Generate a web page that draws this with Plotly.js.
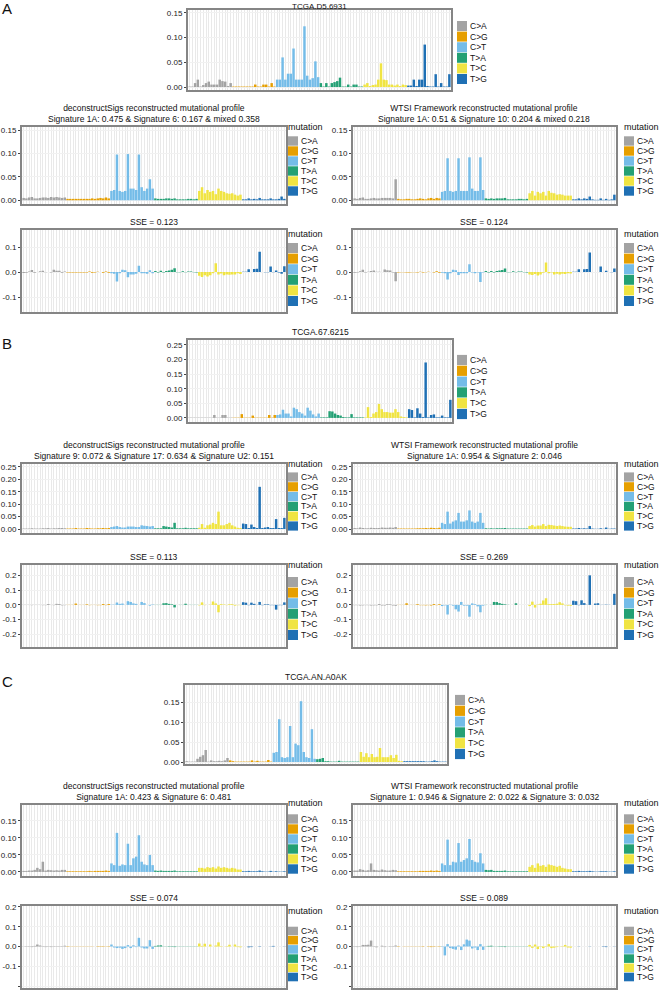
<!DOCTYPE html>
<html><head><meta charset="utf-8">
<script src="https://cdn.plot.ly/plotly-3.0.1.min.js"></script>
<style>html,body{margin:0;padding:0;background:#fff}#chart{width:661px;height:990px}</style>
</head><body><div id="chart"></div>
<script>
const W = 661, H = 990;

// ---------- categories ----------
const mutationTypes = ['C>A', 'C>G', 'C>T', 'T>A', 'T>C', 'T>G'];
const mutationColors = ['#A3A3A3', '#E69F00', '#74BCE8', '#23A074', '#F0E442', '#1F70B4'];
const flankBases = ['A', 'C', 'G', 'T'];

// ---------- series (96 values each, groups of 16 in mutation order) ----------
const aOriginal = [
 0.001,0.001,0.008,0.015,0.001,0.004,0.008,0.011,0.005,0.005,0.005,0.015,0.012,0.011,0.002,0.008,
 0.001,0.001,0.001,0.001,0.001,0.001,0.001,0.001,0.005,0.001,0.001,0.005,0.005,0.001,0.008,0.001,
 0.015,0.015,0.060,0.015,0.027,0.027,0.078,0.015,0.015,0.015,0.123,0.023,0.015,0.018,0.052,0.020,
 0.008,0.001,0.008,0.001,0.008,0.010,0.012,0.019,0.001,0.001,0.005,0.001,0.005,0.005,0.001,0.001,
 0.005,0.008,0.002,0.004,0.005,0.015,0.048,0.015,0.014,0.005,0.005,0.003,0.005,0.002,0.005,0.004,
 0.003,0.003,0.015,0.002,0.015,0.015,0.086,0.002,0.001,0.001,0.026,0.001,0.008,0.001,0.001,0.026];
const aDecon = [
 0.005,0.004,0.006,0.007,0.004,0.004,0.005,0.006,0.006,0.005,0.007,0.006,0.007,0.006,0.005,0.006,
 0.003,0.003,0.003,0.003,0.003,0.003,0.003,0.003,0.003,0.004,0.003,0.004,0.005,0.004,0.006,0.004,
 0.020,0.022,0.098,0.020,0.018,0.020,0.099,0.025,0.025,0.022,0.098,0.028,0.020,0.025,0.045,0.025,
 0.004,0.003,0.003,0.003,0.004,0.004,0.003,0.004,0.002,0.002,0.002,0.002,0.003,0.003,0.002,0.003,
 0.020,0.028,0.015,0.022,0.018,0.020,0.013,0.025,0.020,0.018,0.015,0.014,0.015,0.012,0.010,0.012,
 0.002,0.002,0.004,0.002,0.003,0.002,0.005,0.002,0.002,0.002,0.004,0.002,0.002,0.003,0.008,0.003];
const aWtsi = [
 0.004,0.003,0.005,0.006,0.003,0.003,0.004,0.005,0.004,0.004,0.005,0.005,0.005,0.005,0.004,0.045,
 0.003,0.002,0.002,0.003,0.003,0.002,0.002,0.003,0.004,0.003,0.002,0.004,0.005,0.003,0.005,0.004,
 0.018,0.020,0.090,0.020,0.018,0.020,0.090,0.020,0.020,0.020,0.092,0.025,0.020,0.020,0.092,0.022,
 0.004,0.003,0.004,0.003,0.004,0.004,0.004,0.005,0.002,0.002,0.002,0.002,0.003,0.003,0.002,0.003,
 0.015,0.020,0.010,0.018,0.015,0.018,0.010,0.020,0.016,0.015,0.012,0.013,0.012,0.010,0.010,0.010,
 0.002,0.002,0.004,0.002,0.004,0.003,0.008,0.002,0.001,0.001,0.004,0.001,0.003,0.001,0.002,0.012];
const aSseDecon = [
 -0.004,-0.003,0.002,0.008,-0.003,0.000,0.003,0.005,-0.001,0.000,-0.002,0.009,0.005,0.005,-0.003,0.002,
 -0.002,-0.002,-0.002,-0.002,-0.002,-0.002,-0.002,-0.002,0.002,-0.003,-0.002,0.001,0.000,-0.003,0.002,-0.003,
 -0.005,-0.007,-0.038,-0.005,0.009,0.007,-0.021,-0.010,-0.010,-0.007,0.025,-0.005,-0.005,-0.007,0.007,-0.005,
 0.004,-0.002,0.005,-0.002,0.004,0.006,0.009,0.015,-0.001,-0.001,0.003,-0.001,0.002,0.002,-0.001,-0.002,
 -0.015,-0.020,-0.013,-0.018,-0.013,-0.005,0.035,-0.010,-0.006,-0.013,-0.010,-0.011,-0.010,-0.010,-0.005,-0.008,
 0.001,0.001,0.011,0.000,0.012,0.013,0.081,0.000,-0.001,-0.001,0.022,-0.001,0.006,-0.002,-0.007,0.023];
const aSseWtsi = [
 -0.003,-0.002,0.003,0.009,-0.002,0.001,0.004,0.006,0.001,0.001,0.000,0.010,0.007,0.006,-0.002,-0.037,
 -0.002,-0.001,-0.001,-0.002,-0.002,-0.001,-0.001,-0.002,0.001,-0.002,-0.001,0.001,0.000,-0.002,0.003,-0.003,
 -0.003,-0.005,-0.030,-0.005,0.009,0.007,-0.012,-0.005,-0.005,-0.005,0.031,-0.002,-0.005,-0.002,-0.040,-0.002,
 0.004,-0.002,0.004,-0.002,0.004,0.006,0.008,0.014,-0.001,-0.001,0.003,-0.001,0.002,0.002,-0.001,-0.002,
 -0.010,-0.012,-0.008,-0.014,-0.010,-0.003,0.038,-0.005,-0.002,-0.010,-0.007,-0.010,-0.007,-0.008,-0.005,-0.006,
 0.001,0.001,0.011,0.000,0.011,0.012,0.078,0.000,0.000,0.000,0.022,0.000,0.005,0.000,-0.001,0.014];

const bOriginal = [
 0.001,0.001,0.001,0.001,0.001,0.001,0.001,0.001,0.001,0.010,0.001,0.001,0.010,0.010,0.001,0.001,
 0.001,0.001,0.001,0.013,0.001,0.001,0.001,0.008,0.001,0.001,0.001,0.001,0.001,0.010,0.001,0.010,
 0.010,0.012,0.028,0.015,0.015,0.005,0.035,0.030,0.020,0.015,0.008,0.035,0.025,0.012,0.005,0.015,
 0.002,0.002,0.002,0.023,0.022,0.015,0.010,0.008,0.003,0.002,0.002,0.013,0.002,0.002,0.002,0.002,
 0.002,0.037,0.003,0.015,0.020,0.048,0.030,0.020,0.020,0.018,0.018,0.030,0.020,0.005,0.003,0.002,
 0.030,0.027,0.002,0.033,0.015,0.003,0.190,0.002,0.010,0.012,0.002,0.002,0.008,0.002,0.002,0.062];
const bDecon = [
 0.002,0.002,0.002,0.003,0.002,0.002,0.002,0.003,0.003,0.004,0.002,0.003,0.003,0.004,0.004,0.003,
 0.002,0.002,0.002,0.004,0.002,0.002,0.002,0.004,0.003,0.002,0.002,0.003,0.003,0.004,0.003,0.004,
 0.008,0.010,0.012,0.008,0.006,0.006,0.010,0.010,0.010,0.008,0.008,0.015,0.013,0.012,0.010,0.012,
 0.003,0.003,0.003,0.012,0.010,0.008,0.006,0.025,0.003,0.003,0.003,0.005,0.003,0.003,0.003,0.003,
 0.005,0.020,0.005,0.015,0.018,0.025,0.020,0.070,0.015,0.015,0.020,0.025,0.015,0.010,0.005,0.004,
 0.022,0.020,0.004,0.018,0.008,0.004,0.170,0.004,0.006,0.008,0.004,0.004,0.040,0.004,0.004,0.045];
const bWtsi = [
 0.004,0.003,0.006,0.004,0.003,0.003,0.005,0.004,0.004,0.004,0.006,0.005,0.005,0.006,0.005,0.008,
 0.002,0.002,0.002,0.002,0.002,0.002,0.002,0.003,0.003,0.003,0.004,0.003,0.005,0.004,0.003,0.005,
 0.025,0.020,0.070,0.022,0.030,0.035,0.065,0.030,0.030,0.035,0.075,0.030,0.025,0.030,0.065,0.025,
 0.003,0.002,0.003,0.002,0.003,0.003,0.003,0.004,0.002,0.002,0.002,0.002,0.002,0.002,0.002,0.002,
 0.012,0.016,0.010,0.014,0.014,0.020,0.012,0.017,0.016,0.014,0.012,0.014,0.012,0.010,0.009,0.009,
 0.002,0.002,0.004,0.002,0.003,0.002,0.012,0.002,0.001,0.001,0.003,0.001,0.006,0.001,0.002,0.002];
const bSseDecon = [
 -0.001,-0.001,-0.001,-0.002,-0.001,-0.001,-0.001,-0.002,-0.002,0.006,-0.001,-0.002,0.007,0.006,-0.003,-0.002,
 -0.001,-0.001,-0.001,0.009,-0.001,-0.001,-0.001,0.004,-0.002,-0.001,-0.001,-0.002,-0.002,0.006,-0.002,0.006,
 0.002,0.002,0.016,0.007,0.009,-0.001,0.025,0.020,0.010,0.007,0.000,0.020,0.012,0.000,-0.005,0.003,
 -0.001,-0.001,-0.001,0.011,0.012,0.007,0.004,-0.017,0.000,-0.001,-0.001,0.008,-0.001,-0.001,-0.001,-0.001,
 -0.003,0.017,-0.002,0.000,0.002,0.023,0.010,-0.050,0.005,0.003,-0.002,0.005,0.005,-0.005,-0.002,-0.002,
 0.018,0.015,-0.002,0.015,0.007,-0.001,0.020,-0.002,0.004,0.004,-0.002,-0.002,-0.032,-0.002,-0.002,0.017];
const bSseWtsi = [
 -0.002,-0.002,-0.004,-0.003,-0.002,-0.002,-0.004,-0.003,-0.003,0.006,-0.004,-0.004,0.005,0.004,-0.004,-0.006,
 -0.001,-0.001,-0.001,0.011,-0.001,-0.001,-0.001,0.005,-0.002,-0.002,-0.003,-0.002,-0.004,0.006,-0.002,0.005,
 -0.008,-0.003,-0.065,0.002,-0.005,-0.030,-0.045,0.020,-0.005,-0.005,-0.080,0.010,0.005,-0.010,-0.050,-0.005,
 -0.001,0.000,-0.001,0.020,0.019,0.012,0.007,0.004,0.001,0.000,0.000,0.011,0.000,0.000,0.000,0.000,
 -0.008,0.022,-0.018,0.003,0.008,0.030,0.045,0.005,0.006,0.006,0.008,0.018,0.010,-0.003,-0.005,-0.006,
 0.028,0.025,-0.002,0.031,0.012,0.001,0.200,0.000,0.009,0.011,-0.001,0.001,0.002,0.001,0.000,0.075];

const cOriginal = [
 0.002,0.001,0.001,0.001,0.008,0.013,0.017,0.030,0.001,0.004,0.002,0.002,0.003,0.002,0.004,0.010,
 0.004,0.002,0.001,0.001,0.001,0.001,0.001,0.001,0.004,0.001,0.003,0.001,0.001,0.001,0.005,0.001,
 0.023,0.025,0.107,0.012,0.010,0.012,0.090,0.012,0.046,0.042,0.152,0.025,0.012,0.010,0.082,0.008,
 0.007,0.008,0.010,0.002,0.002,0.001,0.001,0.001,0.003,0.001,0.001,0.001,0.001,0.001,0.001,0.001,
 0.025,0.013,0.022,0.012,0.020,0.012,0.013,0.035,0.012,0.012,0.012,0.017,0.010,0.018,0.003,0.002,
 0.002,0.002,0.002,0.002,0.002,0.002,0.002,0.002,0.001,0.001,0.002,0.004,0.002,0.001,0.001,0.001];
const cDecon = [
 0.003,0.003,0.004,0.004,0.006,0.012,0.008,0.030,0.004,0.006,0.005,0.004,0.005,0.004,0.006,0.006,
 0.002,0.002,0.002,0.002,0.002,0.002,0.002,0.002,0.003,0.002,0.003,0.003,0.003,0.003,0.004,0.003,
 0.025,0.020,0.115,0.018,0.022,0.020,0.083,0.020,0.040,0.045,0.108,0.030,0.022,0.020,0.050,0.020,
 0.004,0.003,0.004,0.003,0.003,0.003,0.003,0.004,0.002,0.002,0.002,0.002,0.002,0.002,0.002,0.002,
 0.012,0.012,0.010,0.014,0.012,0.014,0.010,0.016,0.012,0.014,0.012,0.010,0.012,0.010,0.007,0.007,
 0.002,0.002,0.003,0.002,0.002,0.002,0.004,0.002,0.001,0.001,0.003,0.001,0.002,0.001,0.001,0.002];
const cWtsi = [
 0.004,0.004,0.008,0.006,0.004,0.005,0.025,0.006,0.005,0.004,0.007,0.005,0.004,0.004,0.006,0.005,
 0.002,0.002,0.002,0.002,0.002,0.002,0.002,0.002,0.003,0.003,0.003,0.003,0.004,0.003,0.004,0.003,
 0.025,0.020,0.095,0.020,0.030,0.028,0.085,0.030,0.035,0.040,0.097,0.035,0.030,0.028,0.055,0.025,
 0.006,0.005,0.006,0.003,0.003,0.003,0.003,0.004,0.002,0.002,0.002,0.002,0.002,0.002,0.002,0.002,
 0.015,0.020,0.012,0.025,0.018,0.020,0.015,0.022,0.020,0.018,0.015,0.018,0.012,0.010,0.008,0.008,
 0.002,0.002,0.003,0.002,0.002,0.002,0.003,0.002,0.001,0.001,0.002,0.002,0.002,0.001,0.001,0.002];
const cSseDecon = [
 0.001,-0.002,-0.002,-0.003,0.003,0.010,0.005,0.002,-0.003,-0.002,-0.003,-0.002,-0.002,-0.002,-0.002,0.004,
 0.002,-0.001,-0.001,-0.001,-0.001,-0.001,-0.001,-0.001,0.001,-0.001,0.000,-0.002,-0.002,-0.002,0.001,-0.002,
 0.010,-0.005,-0.008,-0.006,-0.012,-0.008,0.007,-0.008,0.006,-0.003,0.044,-0.005,-0.010,-0.010,0.032,-0.012,
 0.003,0.005,0.006,-0.001,-0.001,-0.002,-0.002,-0.003,0.001,-0.001,-0.001,-0.001,-0.001,-0.001,-0.001,-0.001,
 0.015,0.003,0.014,0.000,0.010,0.000,0.005,0.021,0.002,0.000,0.002,0.009,0.000,0.010,-0.003,-0.004,
 0.000,0.000,-0.004,-0.003,0.000,0.000,-0.002,0.000,0.000,0.000,-0.001,0.003,0.000,0.000,0.000,-0.001];
const cSseWtsi = [
 -0.002,-0.003,-0.002,0.008,0.008,0.009,0.030,-0.002,-0.004,0.000,0.004,-0.003,-0.001,-0.002,-0.002,0.005,
 0.002,0.000,-0.001,-0.001,-0.001,-0.001,-0.001,-0.001,0.001,-0.002,0.000,-0.002,-0.003,-0.002,0.001,-0.002,
 -0.002,-0.045,0.012,-0.008,-0.012,-0.016,0.005,-0.018,0.011,0.035,0.030,-0.010,-0.005,-0.018,0.012,-0.017,
 0.001,0.003,0.004,-0.001,-0.001,-0.002,-0.002,-0.003,0.001,-0.001,-0.001,-0.001,-0.001,-0.001,-0.001,-0.001,
 0.008,-0.007,0.010,-0.013,0.002,-0.008,-0.002,0.012,-0.008,-0.006,-0.003,-0.001,-0.002,0.008,-0.005,-0.006,
 0.000,0.000,-0.001,0.000,0.000,0.000,-0.001,0.000,0.000,0.000,0.000,0.002,-0.003,0.000,0.000,-0.001];

// ---------- tick labels ----------
const profTicks15 = [0, 0.05, 0.10, 0.15];
const profTickText15 = ['0.00', '0.05', '0.10', '0.15'];
const profTicks25 = [0, 0.05, 0.10, 0.15, 0.20, 0.25];
const profTickText25 = ['0.00', '0.05', '0.10', '0.15', '0.20', '0.25'];
const sseTicks1 = [-0.1, 0, 0.1];
const sseTickText1 = ['-0.1', '0.0', '0.1'];
const sseTicks2 = [-0.2, -0.1, 0, 0.1, 0.2];
const sseTickText2 = ['-0.2', '-0.1', '0.0', '0.1', '0.2'];

// ---------- categories built from mutation types and flanking bases ----------
const categories = [];
const barColors = [];
mutationTypes.forEach((m, mi) => flankBases.forEach(b5 => flankBases.forEach(b3 => {
  categories.push(b5 + '[' + m + ']' + b3);
  barColors.push(mutationColors[mi]);
})));

// ---------- layout of the 15 panels (pixel geometry) ----------
const L = [22, 286], R = [353, 616];
const panels = [
  {d: aOriginal, x: [188, 451], y: [10, 90], yr: [-0.006, 0.156], tv: profTicks15, tt: profTickText15,
   title: 'TCGA.D5.6931', leg: {x: 457, t: null, y0: 26, s: 10.6}},
  {d: aDecon, x: L, y: [127, 204], yr: [-0.008, 0.157], tv: profTicks15, tt: profTickText15,
   title: 'deconstructSigs reconstructed mutational profile<br>Signature 1A: 0.475 &amp; Signature 6: 0.167 &amp; mixed 0.358',
   leg: {x: 288, t: 127, y0: 141, s: 10}},
  {d: aWtsi, x: R, y: [127, 204], yr: [-0.008, 0.157], tv: profTicks15, tt: profTickText15,
   title: 'WTSI Framework reconstructed mutational profile<br>Signature 1A: 0.51 &amp; Signature 10: 0.204 &amp; mixed 0.218',
   leg: {x: 624, t: 127, y0: 141, s: 10}},
  {d: aSseDecon, x: L, y: [230, 312], yr: [-0.16, 0.168], tv: sseTicks1, tt: sseTickText1,
   title: 'SSE = 0.123', leg: {x: 288, t: 234, y0: 248, s: 10.6}},
  {d: aSseWtsi, x: R, y: [230, 312], yr: [-0.16, 0.168], tv: sseTicks1, tt: sseTickText1,
   title: 'SSE = 0.124', leg: {x: 624, t: 234, y0: 248, s: 10.6}},

  {d: bOriginal, x: [188, 452], y: [340, 422], yr: [-0.014, 0.267], tv: profTicks25, tt: profTickText25,
   title: 'TCGA.67.6215', leg: {x: 457, t: null, y0: 360, s: 10.8}},
  {d: bDecon, x: L, y: [464, 533], yr: [-0.016, 0.262], tv: profTicks25, tt: profTickText25,
   title: 'deconstructSigs reconstructed mutational profile<br>Signature 9: 0.072 &amp; Signature 17: 0.634 &amp; Signature U2: 0.151',
   leg: {x: 288, t: 464, y0: 477, s: 9.8}},
  {d: bWtsi, x: R, y: [464, 533], yr: [-0.016, 0.262], tv: profTicks25, tt: profTickText25,
   title: 'WTSI Framework reconstructed mutational profile<br>Signature 1A: 0.954 &amp; Signature 2: 0.046',
   leg: {x: 624, t: 464, y0: 477, s: 9.8}},
  {d: bSseDecon, x: L, y: [565, 647], yr: [-0.285, 0.27], tv: sseTicks2, tt: sseTickText2,
   title: 'SSE = 0.113', leg: {x: 288, t: 565, y0: 582, s: 10.6}},
  {d: bSseWtsi, x: R, y: [565, 647], yr: [-0.285, 0.27], tv: sseTicks2, tt: sseTickText2,
   title: 'SSE = 0.269', leg: {x: 624, t: 565, y0: 582, s: 10.6}},

  {d: cOriginal, x: [185, 447], y: [685, 764], yr: [-0.005, 0.1925], tv: profTicks15, tt: profTickText15,
   title: 'TCGA.AN.A0AK', leg: {x: 455, t: null, y0: 700, s: 10.8}},
  {d: cDecon, x: L, y: [805, 876], yr: [-0.012, 0.197], tv: profTicks15, tt: profTickText15,
   title: 'deconstructSigs reconstructed mutational profile<br>Signature 1A: 0.423 &amp; Signature 6: 0.481',
   leg: {x: 288, t: 803, y0: 819, s: 10}},
  {d: cWtsi, x: R, y: [805, 876], yr: [-0.012, 0.197], tv: profTicks15, tt: profTickText15,
   title: 'WTSI Framework reconstructed mutational profile<br>Signature 1: 0.946 &amp; Signature 2: 0.022 &amp; Signature 3: 0.032',
   leg: {x: 624, t: 803, y0: 819, s: 10}},
  {d: cSseDecon, x: L, y: [906, 988], yr: [-0.21, 0.205], tv: sseTicks2, tt: sseTickText2,
   title: 'SSE = 0.074', leg: {x: 288, t: 911, y0: 931, s: 9.2}},
  {d: cSseWtsi, x: R, y: [906, 988], yr: [-0.21, 0.205], tv: sseTicks2, tt: sseTickText2,
   title: 'SSE = 0.089', leg: {x: 624, t: 911, y0: 931, s: 9.2}}
];

const FONT = 'Liberation Sans, Arial, sans-serif';
const px = v => v / W, py = v => 1 - v / H;

const traces = [];
const layout = {
  width: W, height: H, margin: {l: 0, r: 0, t: 0, b: 0},
  paper_bgcolor: '#fff', plot_bgcolor: '#fff',
  bargap: 0.1, showlegend: false,
  font: {family: FONT, size: 8, color: '#222'},
  annotations: [], shapes: []
};

panels.forEach((p, i) => {
  const n = i === 0 ? '' : String(i + 1);
  layout['xaxis' + n] = {
    domain: [px(p.x[0]), px(p.x[1])], anchor: 'y' + n, type: 'category',
    range: [-0.6, 95.6], tickmode: 'linear', tick0: 0, dtick: 1,
    showticklabels: false, ticks: '', showgrid: true, gridcolor: '#e9e9e9', gridwidth: 1,
    zeroline: false, showline: true, mirror: true, linecolor: '#858585', linewidth: 2, fixedrange: true
  };
  layout['yaxis' + n] = {
    domain: [py(p.y[1]), py(p.y[0])], anchor: 'x' + n, range: p.yr,
    tickmode: 'array', tickvals: p.tv, ticktext: p.tt,
    ticks: 'outside', ticklen: 2, tickwidth: 1, tickcolor: '#444',
    tickfont: {family: FONT, size: 8, color: '#222'},
    showgrid: true, gridcolor: '#f1f1f1', gridwidth: 1,
    zeroline: false, showline: true, mirror: true, linecolor: '#858585', linewidth: 2, fixedrange: true
  };
  traces.push({
    type: 'bar', x: categories, y: p.d, xaxis: 'x' + n, yaxis: 'y' + n,
    marker: {color: barColors, line: {width: 0}}, hoverinfo: 'skip', showlegend: false
  });
  // title (kept inside the page when the plot sits at the very top)
  const nearTop = p.y[0] < 20;
  layout.annotations.push({
    xref: 'paper', yref: 'paper', x: px((p.x[0] + p.x[1]) / 2),
    y: nearTop ? 1 : py(p.y[0] - 1),
    xanchor: 'center', yanchor: nearTop ? 'top' : 'bottom', showarrow: false, text: p.title,
    font: {family: FONT, size: nearTop ? 8 : 8.5, color: '#111'}
  });
  // legend
  const lg = p.leg;
  if (lg.t !== null) {
    layout.annotations.push({
      xref: 'paper', yref: 'paper', x: px(lg.x - 2), y: py(lg.t), xanchor: 'left', yanchor: 'middle',
      showarrow: false, text: 'mutation', font: {family: FONT, size: 9, color: '#111'}
    });
  }
  mutationTypes.forEach((m, k) => {
    const cy = lg.y0 + k * lg.s;
    layout.shapes.push({
      type: 'rect', xref: 'paper', yref: 'paper',
      x0: px(lg.x), x1: px(lg.x + 10), y0: py(cy + lg.s / 2 - 0.3), y1: py(cy - lg.s / 2 + 0.3),
      fillcolor: mutationColors[k], line: {width: 0}
    });
    layout.annotations.push({
      xref: 'paper', yref: 'paper', x: px(lg.x + 11), y: py(cy), xanchor: 'left', yanchor: 'middle',
      showarrow: false, text: m.replace('>', '&gt;'), font: {family: FONT, size: 8.5, color: '#111'}
    });
  });
});

// panel letters
[['A', 9], ['B', 343], ['C', 681]].forEach(([t, y]) => {
  layout.annotations.push({
    xref: 'paper', yref: 'paper', x: 0, y: py(y), xanchor: 'left', yanchor: 'middle',
    showarrow: false, text: t, font: {family: FONT, size: 15, color: '#111'}
  });
});

Plotly.newPlot('chart', traces, layout, {staticPlot: true, displayModeBar: false});
</script>
</body></html>
